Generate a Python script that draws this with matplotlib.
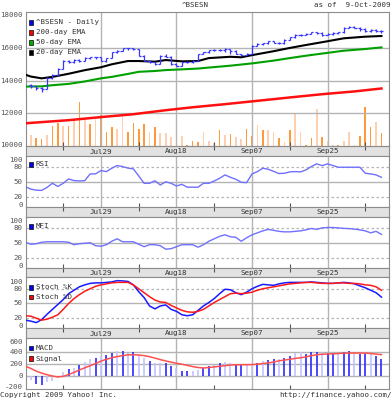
import matplotlib
matplotlib.use("Agg")
import matplotlib.pyplot as plt
from matplotlib.patches import Rectangle

W, H = 392, 400
L, R = 26, 389
MONO = "DejaVu Sans Mono"
FS = 5.4
XLIM = (-0.9, 66.4)

# ---------------- data ----------------
days = list(range(66))
line_days = list(range(-1, 66))          # indicator lines also carry the prior session
major_idx = [13, 27, 41, 55]
major_lbl = ["Jul29", "Aug18", "Sep07", "Sep25"]
minor_idx = [6, 20, 34, 48, 62]

open_ = [13750, 13680, 13540, 13500, 14160, 14360, 14720, 15220, 15120, 15260,
         15220, 15380, 15420, 15420, 15220, 15380, 15730, 15830, 15980, 15980,
         15940, 15530, 15220, 15120, 15010, 15530, 15470, 15010, 14910, 15120,
         15120, 15220, 15630, 15730, 15870, 15870, 15870, 15940, 15830, 15630,
         15570, 15630, 16140, 16240, 16280, 16410, 16320, 16280, 16490, 16650,
         16820, 16820, 16880, 16960, 16920, 16820, 16860, 16900, 16960, 17230,
         17310, 17250, 17170, 17020, 17100, 17020]
high = [13820, 13700, 13620, 14200, 14400, 14750, 15260, 15250, 15300, 15330,
        15420, 15460, 15470, 15440, 15400, 15760, 15870, 16000, 16010, 16000,
        15960, 15560, 15280, 15150, 15560, 15600, 15480, 15050, 15150, 15180,
        15260, 15660, 15760, 15900, 15920, 15910, 15980, 15960, 15850, 15660,
        15700, 16170, 16280, 16330, 16450, 16430, 16340, 16520, 16690, 16860,
        16880, 16920, 17000, 16990, 16960, 16900, 16950, 17000, 17260, 17350,
        17330, 17280, 17200, 17150, 17130, 17080]
low = [13560, 13420, 13300, 13480, 14100, 14300, 14700, 15050, 15100, 15150,
       15200, 15350, 15330, 15180, 15150, 15370, 15700, 15800, 15900, 15880,
       15500, 15180, 15080, 14950, 15000, 15420, 14980, 14880, 14890, 15080,
       15050, 15200, 15600, 15700, 15820, 15800, 15780, 15650, 15600, 15520,
       15540, 15620, 16100, 16200, 16260, 16280, 16220, 16260, 16470, 16620,
       16760, 16800, 16850, 16850, 16720, 16780, 16820, 16870, 16940, 17200,
       17200, 17050, 16950, 17000, 16950, 16920]
close = [13680, 13540, 13480, 14160, 14360, 14710, 15220, 15120, 15260, 15220,
         15380, 15420, 15420, 15220, 15380, 15730, 15830, 15980, 15980, 15940,
         15530, 15220, 15120, 15010, 15530, 15470, 15010, 14910, 15120, 15120,
         15220, 15630, 15730, 15870, 15870, 15870, 15940, 15830, 15630, 15570,
         15630, 16140, 16240, 16280, 16410, 16320, 16280, 16490, 16650, 16820,
         16820, 16880, 16960, 16920, 16820, 16860, 16900, 16960, 17230, 17310,
         17250, 17170, 17020, 17100, 17020, 17020]

volume = [11.3, 7.7, 7.0, 10.7, 20.3, 23.0, 20.3, 20.0, 27.0, 43.7,
          28.0, 22.0, 27.0, 31.3, 14.3, 19.3, 17.3, 30.0, 13.7, 22.7,
          17.3, 22.0, 14.3, 19.3, 13.0, 13.0, 9.3, 15.3, 10.3, 0.8,
          5.0, 4.0, 14.0, 4.7, 2.7, 15.7, 10.7, 12.0, 8.7, 6.7,
          16.7, 10.0, 21.3, 15.7, 15.7, 13.7, 8.3, 3.7, 16.0, 31.7,
          14.0, 1.0, 7.7, 36.7, 9.3, 5.0, 1.0, 1.0, 5.0, 14.0,
          1.0, 10.0, 39.3, 19.3, 24.0, 12.7]
vol_dark = "lool" "oololo" "lolooolloo" "oololllolo" "oolllololl" "oolollolol" "loololloll" "looolo"

ema20_x = [-1, 0, 2, 4, 7, 10, 13, 15, 18, 20, 23, 25, 28, 31, 33, 37, 39, 41, 45, 48, 51, 55, 58, 62, 65]
ema20 = [14360, 14250, 14140, 14230, 14420, 14640, 14820, 15000, 15200, 15200, 15160, 15260, 15180,
         15200, 15380, 15460, 15430, 15560, 15800, 16000, 16180, 16410, 16590, 16690, 16730]
ema50_x = [-1, 0, 2, 4, 7, 10, 13, 15, 18, 20, 23, 25, 28, 31, 33, 37, 41, 45, 48, 51, 55, 58, 62, 65]
ema50 = [13640, 13640, 13650, 13720, 13800, 13950, 14140, 14230, 14410, 14540, 14590, 14645, 14690,
         14740, 14800, 14915, 15055, 15225, 15380, 15525, 15700, 15830, 15935, 16035]
ema200_x = [-1, 7, 13, 19, 25, 30, 36, 42, 48, 54, 60, 65]
ema200 = [11390, 11580, 11770, 11945, 12190, 12370, 12560, 12765, 12970, 13170, 13340, 13520]

rsi = [41, 36, 34, 33.5, 39.5, 47.9, 41.5, 47.9, 56.6, 53.3, 52.6, 53.3, 66.8, 67, 73.6, 71.5,
       78.3, 83.7, 81.7, 78.5, 77.0, 62.7, 47.9, 47.9, 53, 44.5, 51, 47.9, 42.4, 45.8, 40,
       40, 40, 47.9, 47.9, 52.6, 58, 64.8, 60, 56, 49.9, 49.2, 66.8, 71.5, 78.3, 76.3, 72,
       67.5, 68.2, 70.9, 71.5, 70.9, 74.9, 81.7, 87.1, 83.5, 87.1, 83.7, 80.3, 80.3, 80.3,
       80.3, 80.3, 68.2, 66.8, 64.8, 60]
mfi = [51, 47, 48, 51, 52, 52, 52, 52, 51, 46, 48, 49, 50, 44, 43, 46, 53, 58, 52, 52, 52,
       47, 42, 46, 46, 44, 37, 38, 42, 46, 46, 46, 41, 46, 53, 58, 63, 66, 62, 61, 53,
       60, 66, 70, 74, 77, 75, 73, 72, 72, 73, 74, 76, 78.8, 77, 80, 80.8, 80.8, 80, 79,
       78.5, 77.4, 76, 74, 70, 73, 67]
stoch_k = [16, 14, 11, 17, 28, 38, 48, 58, 70, 77, 84, 88, 91, 92, 92, 93, 94, 96.6, 96, 95, 88,
           74, 62, 45, 39, 45, 47, 38, 34, 27, 25, 27, 36, 45, 52, 60, 70, 79, 78, 72, 68,
           73, 80, 85, 89, 88, 87, 90, 92, 93, 93, 93, 93, 94, 93, 92, 91, 91, 92, 93, 92,
           90, 86, 82, 77, 72, 63]
stoch_d = [25, 24, 20, 16, 18, 22, 27, 38, 50, 60, 68, 75, 80, 85, 88, 90, 92, 93, 93, 93, 88,
           80, 72, 64, 57, 53, 52, 46, 41, 36, 33, 32, 34, 38, 45, 52, 58, 64, 70, 71, 70,
           71, 73, 77, 80, 82, 84, 86, 88, 90, 91, 92, 93, 93, 92, 91, 91, 91, 92, 92, 91,
           91, 90, 88, 87, 84, 77]
macd = [-71, -126, -142, -104, -88, -33, 66, 115, 132, 186, 230, 279, 296, 323, 351, 378,
        411, 411, 378, 389, 340, 290, 252, 214, 214, 214, 159, 132, 77, 77, 77, 104, 132,
        159, 186, 214, 225, 214, 186, 175, 175, 203, 214, 241, 269, 279, 279, 296, 334, 378,
        389, 370, 388, 388, 389, 379, 379, 379, 388, 405, 379, 367, 367, 360, 334, 280]
macd_dark = "lbbllllblbllblbblblbllbllbblbbllbb" "lbllbbllblbblbbllbbblbblbblbb"
signal = [160, 125, 80, 48, 22, 0, -14, -5, 25, 60, 100, 135, 170, 205, 245, 275, 300, 320, 335,
          348, 350, 345, 335, 318, 295, 270, 248, 228, 210, 195, 175, 155, 140, 132, 140,
          150, 160, 170, 180, 185, 186, 186, 188, 195, 205, 215, 230, 250, 262, 275, 290,
          300, 315, 335, 350, 358, 362, 365, 370, 375, 378, 378, 378, 376, 370, 360, 352]

# ---------------- figure ----------------
fig = plt.figure(figsize=(W / 100, H / 100), dpi=100)
fig.patch.set_facecolor("white")

GRID = "#b4b4b4"
SPINE = "#8c8c8c"
TXT = "#333333"
PX = 72 / 100.0  # points per pixel


def add_ax(top, bottom):
    return fig.add_axes([L / W, 1 - bottom / H, (R - L) / W, (bottom - top) / H])


def style_panel(ax, yticks, ylim, shifts):
    ax.set_xlim(*XLIM)
    ax.set_ylim(*ylim)
    ax.set_xticks(minor_idx)
    ax.tick_params(axis="x", direction="in", length=3, color="#555555",
                   labelbottom=False, width=0.8)
    ax.set_yticks([])
    for t, dy in zip(yticks, shifts):
        ax.annotate(str(t), xy=(0, t), xycoords=("axes fraction", "data"),
                    xytext=(-3.2 * PX, -dy * PX), textcoords="offset points",
                    ha="right", va="center", family=MONO, fontsize=FS,
                    color="#555555", annotation_clip=False)
    for s in ax.spines.values():
        s.set_color(SPINE)
        s.set_linewidth(0.8)
    for m in major_idx:
        ax.axvline(m, color=GRID, lw=1, zorder=0.5)


def band(top, bottom):
    b = add_ax(top, bottom)
    b.set_facecolor("#e2e2e2")
    b.set_xlim(*XLIM)
    b.set_ylim(0, 1)
    b.set_yticks([])
    b.set_xticks(minor_idx)
    b.tick_params(axis="x", direction="in", length=3, top=True, bottom=False,
                  labelbottom=False, color="#555555", width=0.8)
    for s in b.spines.values():
        s.set_color(SPINE)
        s.set_linewidth(0.8)
    for m, t in zip(major_idx, major_lbl):
        b.text(m, 0.45, t, ha="center", va="center", family=MONO, fontsize=FS, color=TXT)
    return b


def legend_row(ypx, color, label):
    fig.patches.append(Rectangle((29 / W, 1 - (ypx + 2.2) / H), 4.4 / W, 4.4 / H,
                                 transform=fig.transFigure, facecolor=color,
                                 edgecolor="#222222", lw=0.6, zorder=10))
    fig.text(36 / W, 1 - ypx / H, label, ha="left", va="center", family=MONO,
             fontsize=FS, color=TXT, zorder=11)


# Main price panel
ax = add_ax(12, 146)
axv = ax.twinx()
axv.set_ylim(0, 134)
axv.set_yticks([])
vcol = ["#ff9a3c" if c == "o" else "#ffcfb2" for c in vol_dark]
axv.bar(days, volume, width=0.3, color=vcol, zorder=1)
for s in axv.spines.values():
    s.set_visible(False)
ax.set_zorder(axv.get_zorder() + 1)
ax.patch.set_visible(False)
style_panel(ax, [10000, 12000, 14000, 16000, 18000], (10000, 18200), [-1, 0, 0, 0, 0])
for g in [12000, 14000, 16000]:
    ax.axhline(g, color=GRID, lw=1, zorder=0.5)
ax.plot(ema200_x, ema200, color="#ff1010", lw=1.8, zorder=3)
ax.plot(ema50_x, ema50, color="#00a000", lw=1.5, zorder=3)
ax.plot(ema20_x, ema20, color="#000000", lw=1.5, zorder=3)
pc = "#3535ff"
ax.vlines(days, low, high, color=pc, lw=0.9, zorder=4)
ax.hlines(open_, [d - 0.38 for d in days], days, color=pc, lw=0.9, zorder=4)
ax.hlines(close, days, [d + 0.38 for d in days], color=pc, lw=0.9, zorder=4)

band(146, 156)

IND_SHIFT = [-2.0, 0, 0, 0, 3.0]

# RSI
ax2 = add_ax(156, 207)
style_panel(ax2, [0, 20, 50, 80, 100], (0, 103), IND_SHIFT)
ax2.axhline(50, color=GRID, lw=1, zorder=0.5)
for g in [20, 80]:
    ax2.axhline(g, color=GRID, lw=0.9, ls=(0, (2, 2)), zorder=0.5)
ax2.plot(line_days, rsi, color="#7070ff", lw=1.0, zorder=3)
band(207, 216.5)

# MFI
ax3 = add_ax(216.5, 267.5)
style_panel(ax3, [0, 20, 50, 80, 100], (0, 103), IND_SHIFT)
ax3.axhline(50, color=GRID, lw=1, zorder=0.5)
for g in [20, 80]:
    ax3.axhline(g, color=GRID, lw=0.9, ls=(0, (2, 2)), zorder=0.5)
ax3.plot(line_days, mfi, color="#7070ff", lw=1.0, zorder=3)
band(267.5, 277)

# Stochastic
ax4 = add_ax(277, 328)
style_panel(ax4, [0, 20, 50, 80, 100], (0, 104), [-2.5, 0, 0, 0, 2.7])
ax4.axhline(50, color=GRID, lw=1, zorder=0.5)
for g in [20, 80]:
    ax4.axhline(g, color=GRID, lw=0.9, ls=(0, (2, 2)), zorder=0.5)
ax4.plot(line_days, stoch_k, color="#1a1aff", lw=1.1, zorder=3)
ax4.plot(line_days, stoch_d, color="#ff1a1a", lw=1.1, zorder=3)
band(328, 338)

# MACD
ax5 = add_ax(338, 389)
style_panel(ax5, [-200, 0, 200, 400, 600], (-213, 625), [-1.5, 0, 0, 0, 2.8])
for g in [0, 200, 400]:
    ax5.axhline(g, color=GRID, lw=1, zorder=0.5)
mcol = ["#2a2aff" if c == "b" else "#c2c2ff" for c in macd_dark]
ax5.vlines(days, 0, macd, colors=mcol, lw=1.2, zorder=2)
ax5.plot(line_days, signal, color="#ff5050", lw=1.1, zorder=3)

# legends
legend_row(22.3, "#0000ff", "^BSESN - Daily")
legend_row(32.3, "#ff0000", "200-day EMA")
legend_row(42.3, "#00b000", "50-day EMA")
legend_row(52.3, "#000000", "20-day EMA")
legend_row(164.5, "#0000ff", "RSI")
legend_row(226.5, "#0000ff", "MFI")
legend_row(287.3, "#0000ff", "Stoch %K")
legend_row(296.8, "#ff0000", "Stoch %D")
legend_row(348.2, "#0000ff", "MACD")
legend_row(358.5, "#ff0000", "Signal")

fig.text(195 / W, 1 - 5 / H, "^BSESN", ha="center", va="center", family=MONO,
         fontsize=FS, color=TXT)
fig.text(390 / W, 1 - 5 / H, "as of  9-Oct-2009", ha="right", va="center", family=MONO,
         fontsize=FS, color=TXT)
fig.text(0 / W, 1 - 395.5 / H, "Copyright 2009 Yahoo! Inc.", ha="left", va="center",
         family=MONO, fontsize=FS, color=TXT)
fig.text(392 / W, 1 - 395.5 / H, "http://finance.yahoo.com/", ha="right", va="center",
         family=MONO, fontsize=FS, color=TXT)

fig.savefig("out.png", dpi=100, facecolor="white")
